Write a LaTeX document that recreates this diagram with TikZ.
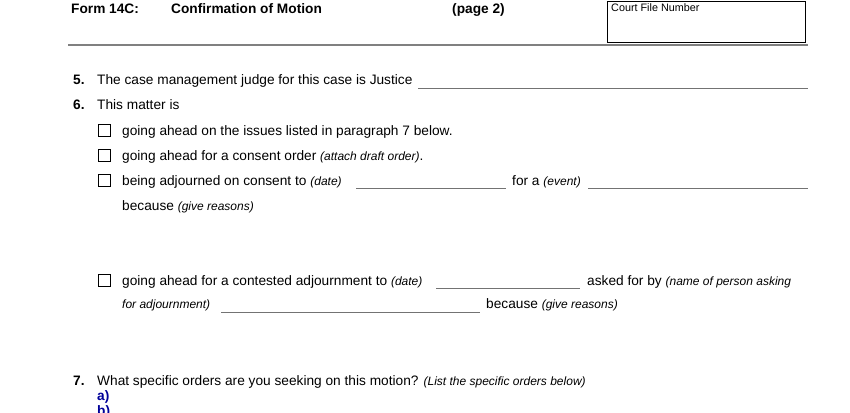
\documentclass[tikz,border=0pt]{standalone}
\usepackage{fontspec}
\setmainfont{Liberation Sans}
\newcommand{\itx}[1]{{\fontsize{12}{13}\selectfont\itshape #1}}
\begin{document}
\begin{tikzpicture}[x=1pt,y=-1pt,
  t/.style={anchor=base west,inner sep=0pt,font=\fontsize{13.7}{15}\selectfont},
  h/.style={t,font=\fontsize{13.7}{15}\selectfont\bfseries},
  fl/.style={draw=black!55,line width=0.5pt},
  cb/.style={draw,line width=0.7pt,minimum size=12pt,inner sep=0pt,anchor=north west}]
\useasboundingbox (0,0) rectangle (850,412);
\node[h] (f) at (71,14) {Form 14C:};
\node[h] (c) at (171,14) {Confirmation of Motion};
\node[h] (p) at (452,14) {(page 2)};
\node[draw,line width=0.6pt,minimum width=198pt,minimum height=41pt,anchor=north west,inner sep=0pt] (box) at (607,1) {};
\node[anchor=north west,inner sep=0pt,font=\fontsize{10.8}{12}\selectfont] (cfn) at (611,3) {Court File Number};
\draw[black!50,line width=1.5pt] (68,45) coordinate (l1) -- (808,45) coordinate (l2);
\node[h] (n5) at (73,84) {5.};
\node[t] (t5) at (97,84) {The case management judge for this case is Justice};
\coordinate (a1) at (418,88); \coordinate (a2) at (808,88); \draw[fl] (a1)--(a2);
\node[h] (n6) at (73,109) {6.};
\node[t] (t6) at (97,109) {This matter is};
\node[cb] (c1) at (98,124) {}; \node[t] (r1) at (122,135) {going ahead on the issues listed in paragraph 7 below.};
\node[cb] (c2) at (98,149) {}; \node[t] (r2) at (122,160) {going ahead for a consent order \itx{(attach draft order)}.};
\node[cb] (c3) at (98,174) {}; \node[t] (r3) at (122,185) {being adjourned on consent to \itx{(date)}};
\coordinate (b1) at (356,188); \coordinate (b2) at (506,188); \draw[fl] (b1)--(b2);
\node[t] (r3b) at (512,185) {for a \itx{(event)}};
\coordinate (d1) at (588,188); \coordinate (d2) at (808,188); \draw[fl] (d1)--(d2);
\node[t] (r3c) at (122,210) {because \itx{(give reasons)}};
\node[cb] (c4) at (98,274) {}; \node[t] (r4) at (122,285) {going ahead for a contested adjournment to \itx{(date)}};
\coordinate (e1) at (436,288); \coordinate (e2) at (580,288); \draw[fl] (e1)--(e2);
\node[t] (r4b) at (587,285) {asked for by \itx{(name of person asking}};
\node[t,font=\fontsize{12}{13}\selectfont\itshape] (r4c) at (122,308) {for adjournment)};
\coordinate (g1) at (221,312); \coordinate (g2) at (480,312); \draw[fl] (g1)--(g2);
\node[t] (r4d) at (486,308) {because \itx{(give reasons)}};
\node[h] (n7) at (73,385) {7.};
\node[t] (t7) at (97,385) {What specific orders are you seeking on this motion? \itx{(List the specific orders below)}};
\node[h,text=blue!60!black] (qa) at (97,400) {a)};
\node[h,text=blue!60!black] (qb) at (97,415) {b)};
\end{tikzpicture}
\end{document}
